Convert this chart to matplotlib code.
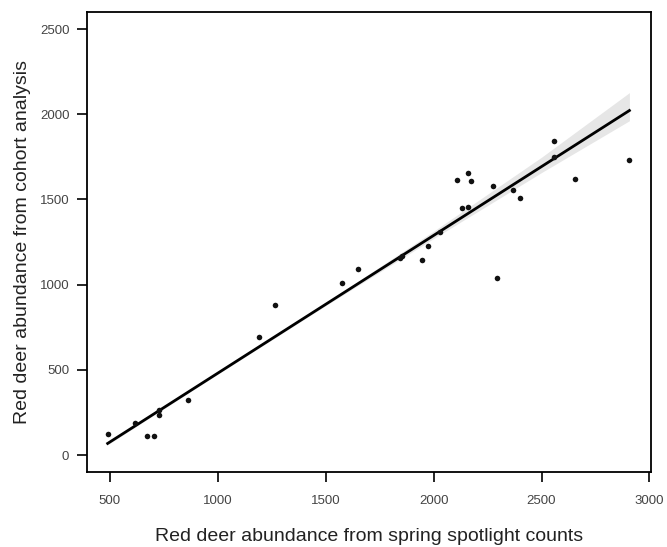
import numpy as np
from matplotlib import pyplot as plt

# Spotlight counts (x) vs cohort analysis estimates (y)
spotlight = [490, 618, 671, 706, 727, 727, 864, 1193, 1266, 1574, 1652,
             1844, 1853, 1948, 1975, 2031, 2110, 2159, 2174, 2133, 2159,
             2277, 2293, 2366, 2401, 2559, 2559, 2655, 2907]
cohort = [123, 190, 113, 113, 266, 236, 322, 695, 881, 1010, 1090,
          1158, 1168, 1147, 1225, 1307, 1615, 1656, 1608, 1451, 1455,
          1578, 1041, 1557, 1506, 1844, 1752, 1619, 1731]

# fitted line as drawn in the figure, and its confidence band
fit_x = [490, 2907]
fit_y = [68, 2022]
band_x = [490, 1000, 1500, 2000, 2500, 2907]
band_lo = [-8, -6, -8, -18, -35, -60]
band_hi = [8, 6, 10, 25, 55, 105]

x_ticks = [500, 1000, 1500, 2000, 2500, 3000]
y_ticks = [0, 500, 1000, 1500, 2000, 2500]


def main():
    plt.rcParams['font.family'] = ['Liberation Sans', 'DejaVu Sans']
    fig, ax = plt.subplots(figsize=(6.67, 5.47), dpi=100)
    fig.subplots_adjust(left=0.130, right=0.976, top=0.978, bottom=0.137)

    # band around the line
    line_at_band = np.interp(band_x, fit_x, fit_y)
    ax.fill_between(band_x, line_at_band + np.array(band_lo),
                    line_at_band + np.array(band_hi),
                    color='#e6e6e6', lw=0)
    ax.plot(fit_x, fit_y, c='black', lw=2)
    ax.plot(spotlight, cohort, 'o', c='#111111', ms=4, mew=0)

    ax.set_xlim(393, 3007)
    ax.set_ylim(-100, 2600)
    ax.set_xticks(x_ticks)
    ax.set_yticks(y_ticks)
    ax.tick_params(axis='both', direction='out', length=7.5, width=1.2,
                   labelsize=9.5, labelcolor='#444444')
    ax.tick_params(axis='x', pad=9)
    ax.tick_params(axis='y', pad=5)

    for sp in ax.spines.values():
        sp.set_linewidth(1.3)

    ax.set_xlabel('Red deer abundance from spring spotlight counts',
                  fontsize=14, color='#222222', labelpad=15)
    ax.set_ylabel('Red deer abundance from cohort analysis',
                  fontsize=14, color='#222222', labelpad=6)

    fig.savefig('out.png')


if __name__ == '__main__':
    main()
